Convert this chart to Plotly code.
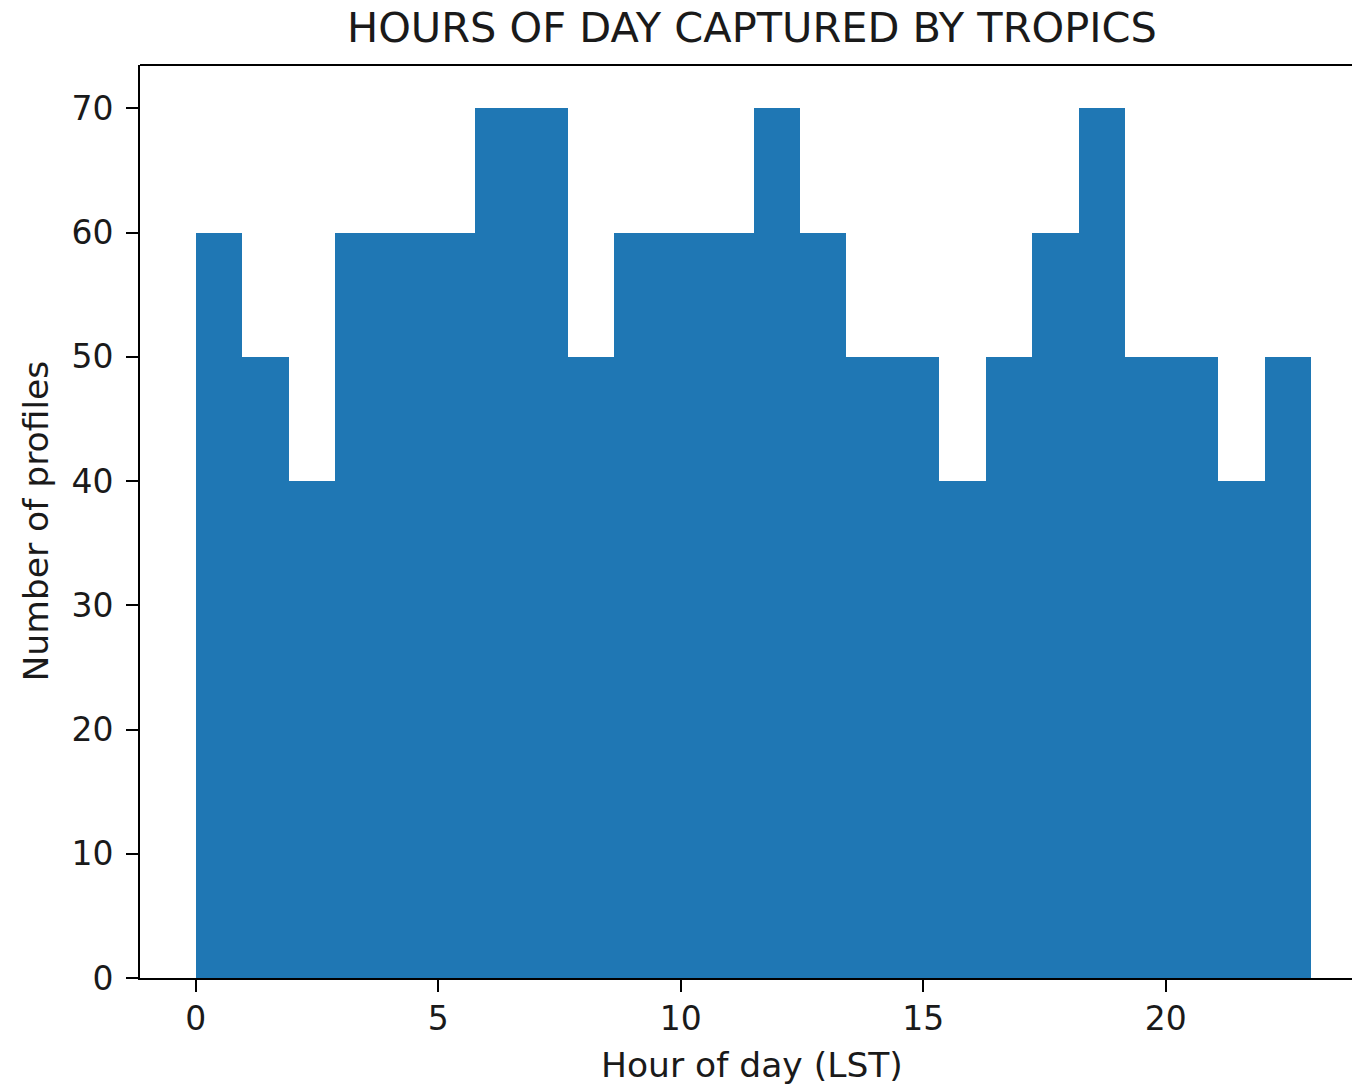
import numpy as np
import plotly.graph_objects as go

# Histogram of profile local solar times: 24 equal bins spanning 0-23 h
bin_start = 0.0
bin_stop = 23.0
n_bins = 24
counts = [60, 50, 40, 60, 60, 60, 70, 70, 50, 60, 60, 60,
          70, 60, 50, 50, 40, 50, 60, 70, 50, 50, 40, 50]
x_ticks = [0, 5, 10, 15, 20]
y_ticks = [0, 10, 20, 30, 40, 50, 60, 70]

edges = np.linspace(bin_start, bin_stop, n_bins + 1)
centers = (edges[:-1] + edges[1:]) / 2
width = edges[1] - edges[0]

FONT = "DejaVu Sans"
BLUE = "#1f77b4"
TXT = "#1a1a1a"

fig = go.Figure(
    go.Bar(
        x=centers,
        y=counts,
        width=[width] * n_bins,
        marker=dict(color=BLUE, line=dict(width=0)),
        hoverinfo="x+y",
    )
)

W, H = 1352, 1084
L, R, T, B = 140, 0, 65, 106
px_per_unit = 48.5
x0 = -1.15
x1 = x0 + (W - L - R) / px_per_unit

axis_common = dict(
    ticks="outside",
    ticklen=12,
    tickwidth=2,
    tickcolor="black",
    showline=True,
    linecolor="black",
    linewidth=2,
    showgrid=False,
    zeroline=False,
    tickfont=dict(family=FONT, size=33, color=TXT),
)

fig.update_layout(
    width=W,
    height=H,
    margin=dict(l=L, r=R, t=T, b=B, pad=0),
    paper_bgcolor="white",
    plot_bgcolor="white",
    showlegend=False,
    bargap=0,
    font=dict(family=FONT, color=TXT, size=33),
    xaxis=dict(
        range=[x0, x1],
        tickvals=x_ticks,
        ticktext=[str(v) for v in x_ticks],
        ticklabelstandoff=-2,
        **axis_common,
    ),
    yaxis=dict(
        range=[0, 73.5],
        tickvals=y_ticks,
        ticktext=[str(v) for v in y_ticks],
        ticklabelstandoff=6,
        **axis_common,
    ),
    shapes=[
        dict(type="line", xref="paper", yref="paper", x0=0, x1=1, y0=1, y1=1,
             line=dict(color="black", width=2)),
    ],
    annotations=[
        dict(text="HOURS OF DAY CAPTURED BY TROPICS", xref="paper", yref="paper",
             x=(752 - L) / (W - L - R), y=1, yshift=38, showarrow=False,
             xanchor="center", yanchor="middle",
             font=dict(family=FONT, size=41.5, color=TXT)),
        dict(text="Hour of day (LST)", xref="paper", yref="paper",
             x=(752 - L) / (W - L - R), y=0, yshift=-87, showarrow=False,
             xanchor="center", yanchor="middle",
             font=dict(family=FONT, size=34.5, color=TXT)),
        dict(text="Number of profiles", xref="paper", yref="paper",
             x=0, xshift=-105, y=0.5, textangle=-90, showarrow=False,
             xanchor="center", yanchor="middle",
             font=dict(family=FONT, size=34.5, color=TXT)),
    ],
)

fig.write_html("out.html")
